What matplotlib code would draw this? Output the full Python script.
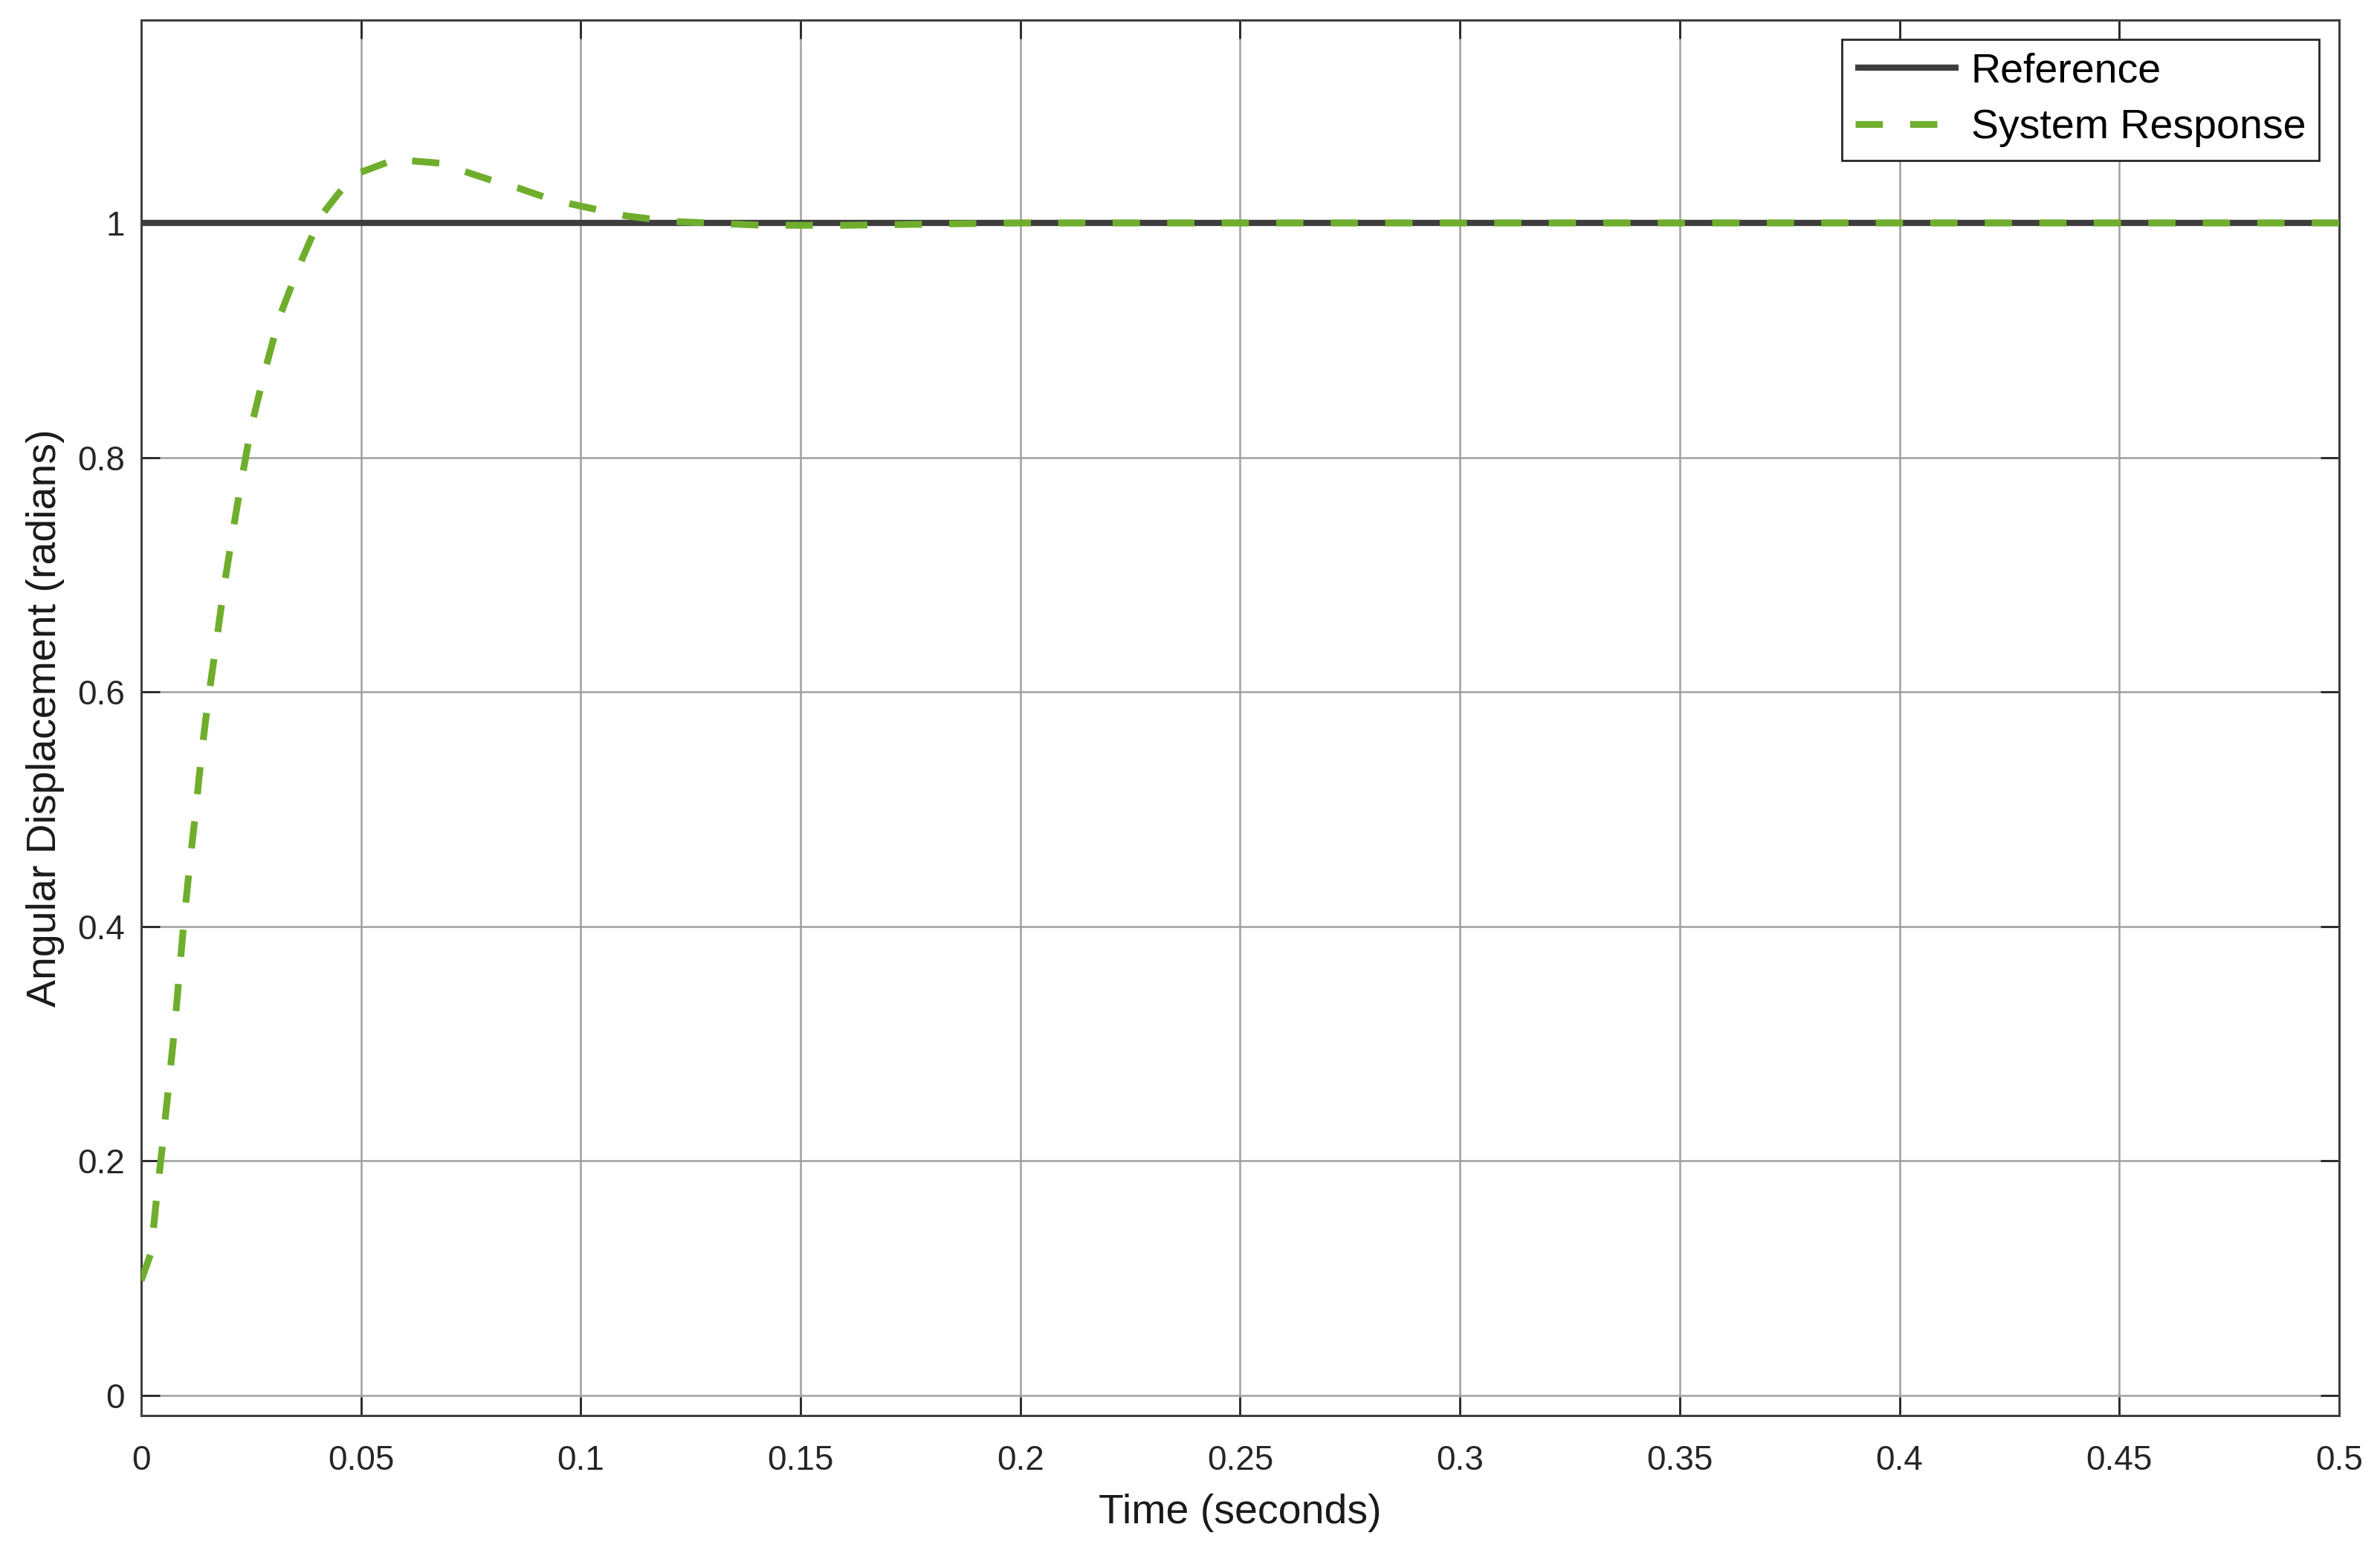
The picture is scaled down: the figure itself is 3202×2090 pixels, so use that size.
import matplotlib

matplotlib.use("Agg")
import matplotlib.pyplot as plt

ref_time = [0.0, 0.5]
ref_angle = [1.0, 1.0]

resp_time = [0.0000, 0.0021, 0.0029, 0.0035, 0.0049, 0.0062, 0.0075, 0.0086,
             0.0097, 0.0110, 0.0124, 0.0137, 0.0152, 0.0170, 0.0187, 0.0207,
             0.0228, 0.0251, 0.0281, 0.0314, 0.0359, 0.0409, 0.0451, 0.0491,
             0.0555, 0.0589, 0.0612, 0.0679, 0.0735, 0.0800, 0.0856, 0.0918,
             0.0980, 0.1042, 0.1103, 0.1168, 0.1224, 0.1290, 0.1350, 0.1415,
             0.1480, 0.1600, 0.1800, 0.2000, 0.2500, 0.3000, 0.5000]
resp_angle = [0.098, 0.120, 0.146, 0.168, 0.215, 0.262, 0.309, 0.356,
              0.403, 0.451, 0.498, 0.546, 0.592, 0.639, 0.686, 0.733,
              0.780, 0.827, 0.873, 0.919, 0.963, 1.006, 1.026, 1.042,
              1.051, 1.056, 1.053, 1.051, 1.044, 1.036, 1.030, 1.022,
              1.016, 1.011, 1.006, 1.003, 1.001, 1.000, 0.999, 0.998,
              0.998, 0.998, 0.999, 1.000, 1.000, 1.000, 1.000]

x_ticks = [0, 0.05, 0.1, 0.15, 0.2, 0.25, 0.3, 0.35, 0.4, 0.45, 0.5]
x_labels = ["0", "0.05", "0.1", "0.15", "0.2", "0.25", "0.3", "0.35", "0.4", "0.45", "0.5"]
y_ticks = [0, 0.2, 0.4, 0.6, 0.8, 1]
y_labels = ["0", "0.2", "0.4", "0.6", "0.8", "1"]

plt.rcParams["font.family"] = ["Liberation Sans", "DejaVu Sans"]

fig = plt.figure(figsize=(16.01, 10.45), dpi=200)
ax = fig.add_axes([0.0593, 0.0885, 0.9235, 0.8988])

ax.plot(ref_time, ref_angle, color="#3d3d3d", linewidth=3.0, label="Reference",
        solid_capstyle="butt", zorder=3)
ax.plot(resp_time, resp_angle, color="#6fae2d", linewidth=3.3, label="System Response",
        dashes=(4.0, 4.0), dash_capstyle="butt", zorder=4)

ax.set_xlim(0, 0.5)
ax.set_ylim(-0.0171, 1.1733)
ax.set_xticks(x_ticks, x_labels)
ax.set_yticks(y_ticks, y_labels)

ax.grid(True, color="#a0a0a0", linewidth=0.9)
ax.set_axisbelow(True)
ax.tick_params(direction="in", length=9, width=1.0, colors="#262626",
               labelsize=16.5, top=True, right=True)
ax.tick_params(axis="x", pad=14)
ax.tick_params(axis="y", pad=8)
for s in ax.spines.values():
    s.set_color("#404040")
    s.set_linewidth(1.1)

ax.set_xlabel("Time (seconds)", fontsize=20, color="#1a1a1a", labelpad=8)
ax.set_ylabel("Angular Displacement (radians)", fontsize=20, color="#1a1a1a", labelpad=6)

leg = ax.legend(loc="upper right", bbox_to_anchor=(0.9909, 0.9859), borderaxespad=0,
                fontsize=20, handlelength=2.5, handletextpad=0.3, borderpad=0.32,
                labelspacing=0.42, fancybox=False, framealpha=1)
leg.get_frame().set_edgecolor("#262626")
leg.get_frame().set_linewidth(1.0)

fig.savefig("out.png", dpi=200)
